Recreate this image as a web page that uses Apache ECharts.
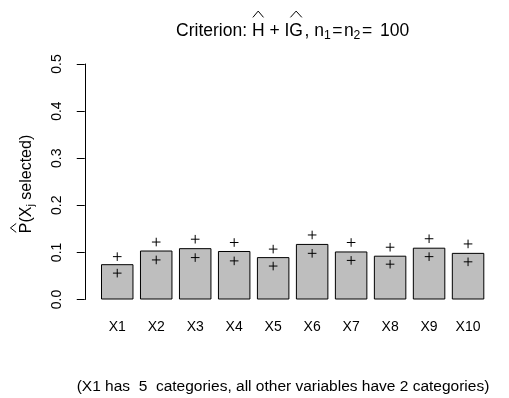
<!DOCTYPE html>
<html>
<head>
<meta charset="utf-8">
<script src="https://cdn.jsdelivr.net/npm/echarts@6/dist/echarts.min.js"></script>
<style>
  html, body { margin: 0; padding: 0; background: #ffffff; }
  #chart { width: 509px; height: 398px; }
</style>
</head>
<body>
<div id="chart"></div>
<script>
// Variables and estimated selection probabilities
const categories = ['X1', 'X2', 'X3', 'X4', 'X5', 'X6', 'X7', 'X8', 'X9', 'X10'];
const selectionProb = [0.075, 0.104, 0.109, 0.103, 0.090, 0.118, 0.102, 0.093, 0.110, 0.099];
// Upper and lower "+" markers drawn for each variable
const upperMark = [0.091, 0.122, 0.128, 0.121, 0.107, 0.137, 0.121, 0.111, 0.129, 0.118];
const lowerMark = [0.056, 0.084, 0.089, 0.082, 0.071, 0.098, 0.083, 0.075, 0.091, 0.080];
// Y axis tick range
const yMin = 0, yMax = 0.5, yStep = 0.1;

const FONT = '"Liberation Sans", Arial, Helvetica, sans-serif';
const measureCtx = document.createElement('canvas').getContext('2d');
function measure(t, size) {
  measureCtx.font = size + 'px ' + FONT;
  measureCtx.textBaseline = 'middle';
  return measureCtx.measureText(t);
}

// Lay out a formula-like label from pieces; "hat" pieces get a chevron above
// ([gap, height] as fractions of the font size), "pad" adds space before a piece
function mathLabel(pieces, cx, cy, rotation) {
  const widths = pieces.map(p => measure(p.t, p.size).width + (p.pad || 0));
  const total = widths.reduce((a, b) => a + b, 0);
  const children = [];
  let x = -total / 2;
  pieces.forEach((p, i) => {
    const dy = p.dy || 0;
    const x0 = x + (p.pad || 0);
    children.push({
      type: 'text', x: x0, y: dy,
      style: {
        text: p.t, font: p.size + 'px ' + FONT, fill: '#000',
        align: 'left', textAlign: 'left',
        verticalAlign: 'middle', textVerticalAlign: 'middle'
      }
    });
    if (p.hat) {
      const m = measure(p.t, p.size);
      const capTop = dy - m.actualBoundingBoxAscent;
      const w = m.width;
      const base = capTop - p.hat[0] * p.size;
      const apex = base - p.hat[1] * p.size;
      children.push({
        type: 'polyline',
        shape: { points: [[x0 + w * 0.08, base], [x0 + w / 2, apex], [x0 + w * 0.92, base]] },
        style: { stroke: '#000', lineWidth: 1, fill: null }
      });
    }
    x += widths[i];
  });
  return { type: 'group', x: cx, y: cy, rotation: rotation || 0, children: children };
}

const TS = 17.5;  // title size
const SUB = 12.2; // title subscript size
const titlePieces = [
  { t: 'Criterion: ', size: TS },
  { t: 'H', size: TS, hat: [0.34, 0.36] },
  { t: ' + ', size: TS },
  { t: 'I', size: TS },
  { t: 'G', size: TS, hat: [0.34, 0.36] },
  { t: ', n', size: TS, pad: 1.5 },
  { t: '1', size: SUB, dy: 4.5 },
  { t: '=', size: TS, pad: 1.5 },
  { t: 'n', size: TS, pad: 1.5 },
  { t: '2', size: SUB, dy: 4.5 },
  { t: '=', size: TS, pad: 1.5 },
  { t: ' 100', size: TS, pad: 3 }
];

const LS = 16;
const yLabelPieces = [
  { t: 'P', size: LS, hat: [0.2, 0.36] },
  { t: '(X', size: LS },
  { t: 'j', size: 11, dy: 4 },
  { t: ' selected)', size: LS }
];

const chart = echarts.init(document.getElementById('chart'), null, { renderer: 'canvas' });

chart.setOption({
  animation: false,
  backgroundColor: '#ffffff',
  grid: { left: 97.75, right: 21.45, top: 64, bottom: 98.5 },
  xAxis: {
    type: 'category',
    data: categories,
    boundaryGap: true,
    axisLine: { show: false },
    axisTick: { show: false },
    axisLabel: { color: '#000', fontSize: 14, fontFamily: FONT, margin: 20.5, interval: 0 }
  },
  yAxis: {
    type: 'value',
    min: yMin, max: yMax, interval: yStep,
    offset: 13,
    axisLine: { show: true, lineStyle: { color: '#000', width: 1 } },
    axisTick: { show: true, length: 8, lineStyle: { color: '#000', width: 1 } },
    splitLine: { show: false },
    axisLabel: {
      color: '#000', fontSize: 14, fontFamily: FONT, rotate: 90, margin: 21,
      formatter: v => v.toFixed(1)
    }
  },
  series: [
    {
      type: 'bar',
      data: selectionProb,
      barWidth: 32.48,
      itemStyle: { color: '#bebebe', borderColor: '#000', borderWidth: 1 },
      silent: true
    },
    {
      type: 'custom',
      data: upperMark.map((v, i) => [i, v]).concat(lowerMark.map((v, i) => [i, v])),
      renderItem: (params, api) => {
        const p = api.coord([api.value(0), api.value(1)]);
        const h = 4.3;
        const st = { stroke: '#000', lineWidth: 1 };
        return {
          type: 'group',
          children: [
            { type: 'line', shape: { x1: p[0] - h, y1: p[1], x2: p[0] + h, y2: p[1] }, style: st },
            { type: 'line', shape: { x1: p[0], y1: p[1] - h, x2: p[0], y2: p[1] + h }, style: st }
          ]
        };
      },
      silent: true,
      z: 5
    }
  ],
  graphic: [
    mathLabel(titlePieces, 292.6, 31.5, 0),
    mathLabel(yLabelPieces, 27, 184, Math.PI / 2),
    {
      type: 'text', x: 283, y: 387,
      style: {
        text: '(X1 has  5  categories, all other variables have 2 categories)',
        font: '15.5px ' + FONT, fill: '#000',
        align: 'center', textAlign: 'center',
        verticalAlign: 'middle', textVerticalAlign: 'middle'
      }
    }
  ]
});
</script>
</body>
</html>
